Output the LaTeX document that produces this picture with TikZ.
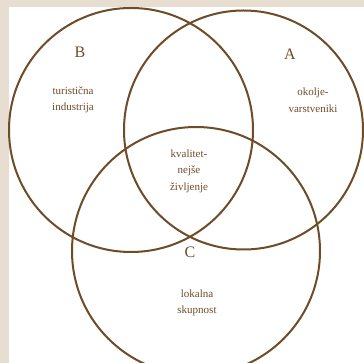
\documentclass[tikz,border=0pt]{standalone}
\usepackage{fontspec}
\setmainfont{Liberation Serif}
\definecolor{bgbeige}{HTML}{E7DDD1}
\definecolor{ink}{HTML}{6E4C28}
\tikzset{
  venn/.style={draw=ink, line width=2pt},
  setlabel/.style={text=ink, font=\fontsize{16}{16}\selectfont},
  settext/.style={text=ink, align=center, font=\fontsize{11}{16.5}\selectfont}
}
\begin{document}
\begin{tikzpicture}[x=1pt,y=-1pt]
\useasboundingbox (0,0) rectangle (364,363);
\fill[bgbeige] (0,0) rectangle (364,363);
\fill[white] (9,7) rectangle (364,363);
\begin{scope}
\clip (0,0) rectangle (364,363);
\draw[venn] (131,130) circle[radius=122];
\draw[venn] (243.5,130) circle[radius=119.5];
\draw[venn] (196,251) circle[radius=124];
\end{scope}
\node[setlabel] (labB) at (80,52) {B};
\node[setlabel] (labA) at (290,54) {A};
\node[setlabel] (labC) at (190,252) {C};
\node[settext] (txtB) at (73,100) {turistična\\industrija};
\node[settext] (txtA) at (313,100) {okolje-\\varstveniki};
\node[settext] (txtM) at (189,171) {kvalitet-\\nejše\\življenje};
\node[settext] (txtC) at (197,303) {lokalna\\skupnost};
\end{tikzpicture}
\end{document}
